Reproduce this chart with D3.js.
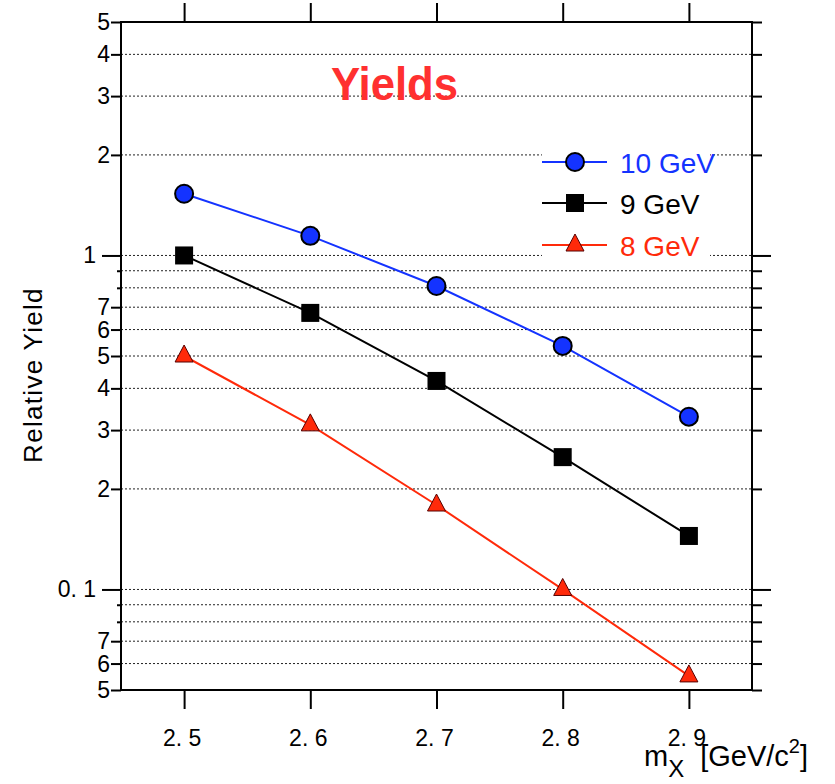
<!DOCTYPE html>
<html>
<head>
<meta charset="utf-8">
<script src="https://cdn.jsdelivr.net/npm/d3@7/dist/d3.min.js"></script>
<style>
  html, body { margin: 0; padding: 0; background: #fff; }
  svg { display: block; }
  text { font-family: "Liberation Sans", Arial, sans-serif; }
</style>
</head>
<body>
<svg id="chart" width="835" height="784"></svg>
<script>
// Relative yields vs. mass for three beam energies
const masses = [2.5, 2.6, 2.7, 2.8, 2.9];
const yield10 = [1.53, 1.145, 0.81, 0.536, 0.329];
const yield9 = [1.0, 0.673, 0.421, 0.249, 0.1446];
const yield8 = [0.5, 0.311, 0.179, 0.1, 0.0551];

const seriesNames = ["10 GeV", "9 GeV", "8 GeV"];
const seriesColors = ["#1433ff", "#000000", "#ff2a0a"];
const seriesShapes = ["circle", "square", "triangle"];

const xTickValues = [2.5, 2.6, 2.7, 2.8, 2.9];
const xTickLabels = ["2. 5", "2. 6", "2. 7", "2. 8", "2. 9"];

const yTickValues = [5, 4, 3, 2, 1, 0.7, 0.6, 0.5, 0.4, 0.3, 0.2, 0.1, 0.07, 0.06, 0.05];
const yTickLabels = ["5", "4", "3", "2", "1", "7", "6", "5", "4", "3", "2", "0. 1", "7", "6", "5"];
const yMajorValues = [1, 0.1];
const yStubValues = [0.9, 0.8, 0.09, 0.08];
const yGridValues = [4, 3, 2, 1, 0.9, 0.8, 0.7, 0.6, 0.5, 0.4, 0.3, 0.2, 0.1, 0.09, 0.08, 0.07, 0.06];

const svg = d3.select("#chart");
const plotLeft = 121, plotRight = 752, plotTop = 22, plotBottom = 690;

const x = d3.scaleLinear().domain([2.45, 2.95]).range([plotLeft, plotRight]);
const y = d3.scaleLog().domain([0.05, 5]).range([plotBottom, plotTop]);

// dotted grid
svg.append("g").selectAll("line").data(yGridValues).join("line")
  .attr("x1", plotLeft).attr("x2", plotRight)
  .attr("y1", d => y(d)).attr("y2", d => y(d))
  .attr("stroke", "#222").attr("stroke-width", 1)
  .attr("stroke-dasharray", "2,2");

// axes (ticks only; labels are drawn separately)
function styleAxis(g) {
  g.selectAll(".domain").remove();
  g.selectAll("text").remove();
  g.selectAll(".tick line").attr("stroke", "#000").attr("stroke-width", 2);
}
const minorY = yTickValues.filter(v => !yMajorValues.includes(v));
svg.append("g").attr("transform", `translate(${plotLeft},0)`)
  .call(d3.axisLeft(y).tickValues(minorY).tickSize(10)).call(styleAxis);
svg.append("g").attr("transform", `translate(${plotLeft},0)`)
  .call(d3.axisLeft(y).tickValues(yMajorValues).tickSize(19)).call(styleAxis);
svg.append("g").attr("transform", `translate(${plotLeft},0)`)
  .call(d3.axisLeft(y).tickValues(yStubValues).tickSize(4)).call(styleAxis);
svg.append("g").attr("transform", `translate(${plotRight},0)`)
  .call(d3.axisRight(y).tickValues(minorY.concat(yStubValues)).tickSize(10)).call(styleAxis);
svg.append("g").attr("transform", `translate(${plotRight},0)`)
  .call(d3.axisRight(y).tickValues(yMajorValues).tickSize(19)).call(styleAxis);
svg.append("g").attr("transform", `translate(0,${plotBottom})`)
  .call(d3.axisBottom(x).tickValues(xTickValues).tickSize(19)).call(styleAxis);
svg.append("g").attr("transform", `translate(0,${plotTop})`)
  .call(d3.axisTop(x).tickValues(xTickValues).tickSize(19)).call(styleAxis);

// frame
svg.append("rect").attr("x", plotLeft).attr("y", plotTop)
  .attr("width", plotRight - plotLeft).attr("height", plotBottom - plotTop)
  .attr("fill", "none").attr("stroke", "#000").attr("stroke-width", 2);

// tick labels
svg.append("g").selectAll("text").data(yTickValues).join("text")
  .attr("x", d => yMajorValues.includes(d) ? plotLeft - 25 : plotLeft - 11)
  .attr("y", d => y(d) + 8)
  .attr("text-anchor", "end")
  .attr("font-size", 23)
  .text((d, i) => yTickLabels[i]);
svg.append("g").selectAll("text").data(xTickValues).join("text")
  .attr("x", d => x(d) - 2)
  .attr("y", 746)
  .attr("text-anchor", "middle")
  .attr("font-size", 23)
  .text((d, i) => xTickLabels[i]);

// axis titles
svg.append("text")
  .attr("transform", "translate(42,375) rotate(-90)")
  .attr("text-anchor", "middle")
  .attr("font-size", 26)
  .attr("letter-spacing", 1.3)
  .text("Relative Yield");

const xt = svg.append("text").attr("x", 644).attr("y", 766).attr("font-size", 29);
xt.append("tspan").text("m");
xt.append("tspan").attr("dy", 11).attr("font-size", 24).text("X");
xt.append("tspan").attr("dy", -11).attr("dx", 16).text("[GeV/c");
xt.append("tspan").attr("dy", -13).attr("font-size", 20).text("2");
xt.append("tspan").attr("dy", 13).text("]");

// title
svg.append("text")
  .attr("x", 331).attr("y", 100)
  .attr("font-family", "Lato, sans-serif")
  .attr("font-weight", "bold")
  .attr("font-size", 47)
  .attr("textLength", 127)
  .attr("lengthAdjust", "spacingAndGlyphs")
  .attr("fill", "#ff3030")
  .text("Yields");

// series
const series = [yield10, yield9, yield8];
const line = d3.line().x((d, i) => x(masses[i])).y(d => y(d));

function drawMarker(g, shape, color) {
  if (shape === "circle") {
    g.append("circle").attr("r", 9).attr("fill", color)
      .attr("stroke", "#000").attr("stroke-width", 2);
  } else if (shape === "square") {
    g.append("rect").attr("x", -9).attr("y", -9).attr("width", 18).attr("height", 18)
      .attr("fill", color);
  } else {
    g.append("path").attr("d", "M0,-11L9,6L-9,6Z").attr("fill", color)
      .attr("stroke", "#550000").attr("stroke-width", 1);
  }
}

series.forEach((vals, s) => {
  svg.append("path").datum(vals).attr("d", line)
    .attr("fill", "none").attr("stroke", seriesColors[s]).attr("stroke-width", 2);
  vals.forEach((v, i) => {
    const g = svg.append("g").attr("transform", `translate(${x(masses[i])},${y(v)})`);
    drawMarker(g, seriesShapes[s], seriesColors[s]);
  });
});

// legend
const lg = svg.append("g");
lg.append("rect").attr("x", 542).attr("y", 140).attr("width", 168).attr("height", 123).attr("fill", "#fff");
const rowY = [162, 203, 245];
seriesNames.forEach((name, s) => {
  lg.append("line").attr("x1", 542).attr("x2", 607)
    .attr("y1", rowY[s]).attr("y2", rowY[s])
    .attr("stroke", seriesColors[s]).attr("stroke-width", 2);
  const g = lg.append("g").attr("transform", `translate(575,${rowY[s]})`);
  drawMarker(g, seriesShapes[s], seriesColors[s]);
  lg.append("text").attr("x", 620).attr("y", rowY[s] + 11)
    .attr("font-family", "Roboto, sans-serif")
    .attr("font-size", 28)
    .attr("fill", seriesColors[s])
    .text(name);
});
</script>
</body>
</html>
